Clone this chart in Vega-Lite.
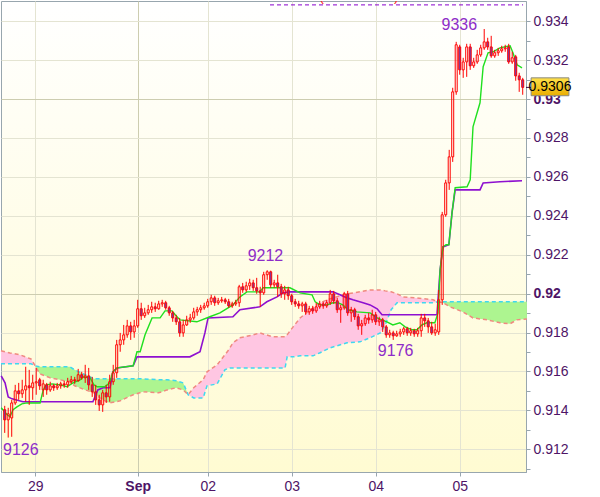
{
"$schema":"https://vega.github.io/schema/vega-lite/v6.json",
"width":525,"height":471,
"autosize":{"type":"none"},
"padding":{"left":1,"top":1,"right":74,"bottom":25},
"background":"#ffffff",
"view":{"stroke":"#98a6ae","strokeWidth":1,"fill":{"gradient":"linear","x1":0,"y1":0,"x2":0,"y2":1,"stops":[{"offset":0,"color":"#ffffff"},{"offset":1,"color":"#fffbd2"}]}},
"config":{"axis":{"labelFont":"Liberation Sans","labelFontSize":14,"labelColor":"#4e1466","domainColor":"#98a6ae","tickColor":"#98a6ae","tickSize":4,"labelPadding":3,"gridWidth":1}},
"resolve":{"axis":{"y":"independent"}},
"datasets":{
"candles":[
{"i":0,"o":0.91403,"h":0.91423,"l":0.91284,"c":0.91351},
{"i":1,"o":0.91351,"h":0.91413,"l":0.91260,"c":0.91382},
{"i":2,"o":0.91361,"h":0.91454,"l":0.91264,"c":0.91438},
{"i":3,"o":0.91438,"h":0.91531,"l":0.91428,"c":0.91500},
{"i":4,"o":0.91500,"h":0.91541,"l":0.91454,"c":0.91485},
{"i":5,"o":0.91485,"h":0.91557,"l":0.91464,"c":0.91505},
{"i":6,"o":0.91505,"h":0.91624,"l":0.91444,"c":0.91526},
{"i":7,"o":0.91526,"h":0.91608,"l":0.91428,"c":0.91516},
{"i":8,"o":0.91516,"h":0.91583,"l":0.91454,"c":0.91541},
{"i":9,"o":0.91541,"h":0.91618,"l":0.91480,"c":0.91547},
{"i":10,"o":0.91557,"h":0.91567,"l":0.91505,"c":0.91526},
{"i":11,"o":0.91505,"h":0.91557,"l":0.91469,"c":0.91536},
{"i":12,"o":0.91531,"h":0.91541,"l":0.91480,"c":0.91505},
{"i":13,"o":0.91505,"h":0.91547,"l":0.91495,"c":0.91526},
{"i":14,"o":0.91526,"h":0.91536,"l":0.91500,"c":0.91516},
{"i":15,"o":0.91516,"h":0.91541,"l":0.91505,"c":0.91526},
{"i":16,"o":0.91526,"h":0.91547,"l":0.91511,"c":0.91536},
{"i":17,"o":0.91536,"h":0.91552,"l":0.91516,"c":0.91531},
{"i":18,"o":0.91531,"h":0.91567,"l":0.91516,"c":0.91547},
{"i":19,"o":0.91547,"h":0.91577,"l":0.91536,"c":0.91557},
{"i":20,"o":0.91557,"h":0.91572,"l":0.91536,"c":0.91552},
{"i":21,"o":0.91552,"h":0.91613,"l":0.91547,"c":0.91583},
{"i":22,"o":0.91583,"h":0.91598,"l":0.91557,"c":0.91567},
{"i":23,"o":0.91567,"h":0.91634,"l":0.91541,"c":0.91577},
{"i":24,"o":0.91577,"h":0.91618,"l":0.91505,"c":0.91531},
{"i":25,"o":0.91531,"h":0.91572,"l":0.91469,"c":0.91495},
{"i":26,"o":0.91495,"h":0.91531,"l":0.91428,"c":0.91454},
{"i":27,"o":0.91454,"h":0.91480,"l":0.91397,"c":0.91428},
{"i":28,"o":0.91428,"h":0.91505,"l":0.91392,"c":0.91490},
{"i":29,"o":0.91490,"h":0.91531,"l":0.91438,"c":0.91469},
{"i":30,"o":0.91469,"h":0.91583,"l":0.91444,"c":0.91547},
{"i":31,"o":0.91547,"h":0.91634,"l":0.91531,"c":0.91593},
{"i":32,"o":0.91593,"h":0.91762,"l":0.91567,"c":0.91737},
{"i":33,"o":0.91737,"h":0.91798,"l":0.91701,"c":0.91762},
{"i":34,"o":0.91762,"h":0.91839,"l":0.91737,"c":0.91788},
{"i":35,"o":0.91788,"h":0.91865,"l":0.91773,"c":0.91834},
{"i":36,"o":0.91834,"h":0.91855,"l":0.91762,"c":0.91803},
{"i":37,"o":0.91803,"h":0.91865,"l":0.91773,"c":0.91834},
{"i":38,"o":0.91834,"h":0.91968,"l":0.91824,"c":0.91922},
{"i":39,"o":0.91922,"h":0.91953,"l":0.91865,"c":0.91886},
{"i":40,"o":0.91886,"h":0.91927,"l":0.91875,"c":0.91901},
{"i":41,"o":0.91901,"h":0.91942,"l":0.91891,"c":0.91917},
{"i":42,"o":0.91917,"h":0.91958,"l":0.91901,"c":0.91932},
{"i":43,"o":0.91932,"h":0.91953,"l":0.91906,"c":0.91922},
{"i":44,"o":0.91922,"h":0.91963,"l":0.91917,"c":0.91947},
{"i":45,"o":0.91947,"h":0.91968,"l":0.91932,"c":0.91953},
{"i":46,"o":0.91953,"h":0.91963,"l":0.91917,"c":0.91927},
{"i":47,"o":0.91927,"h":0.91937,"l":0.91886,"c":0.91901},
{"i":48,"o":0.91901,"h":0.91911,"l":0.91855,"c":0.91875},
{"i":49,"o":0.91875,"h":0.91891,"l":0.91839,"c":0.91855},
{"i":50,"o":0.91855,"h":0.91875,"l":0.91778,"c":0.91798},
{"i":51,"o":0.91798,"h":0.91865,"l":0.91778,"c":0.91839},
{"i":52,"o":0.91839,"h":0.91886,"l":0.91834,"c":0.91865},
{"i":53,"o":0.91865,"h":0.91896,"l":0.91850,"c":0.91875},
{"i":54,"o":0.91875,"h":0.91927,"l":0.91865,"c":0.91906},
{"i":55,"o":0.91906,"h":0.91932,"l":0.91886,"c":0.91917},
{"i":56,"o":0.91917,"h":0.91942,"l":0.91901,"c":0.91927},
{"i":57,"o":0.91927,"h":0.91953,"l":0.91917,"c":0.91937},
{"i":58,"o":0.91937,"h":0.91973,"l":0.91927,"c":0.91958},
{"i":59,"o":0.91958,"h":0.91994,"l":0.91942,"c":0.91978},
{"i":60,"o":0.91978,"h":0.91989,"l":0.91937,"c":0.91953},
{"i":61,"o":0.91953,"h":0.91978,"l":0.91942,"c":0.91963},
{"i":62,"o":0.91963,"h":0.91983,"l":0.91953,"c":0.91968},
{"i":63,"o":0.91968,"h":0.91978,"l":0.91947,"c":0.91958},
{"i":64,"o":0.91958,"h":0.91973,"l":0.91927,"c":0.91937},
{"i":65,"o":0.91937,"h":0.91958,"l":0.91927,"c":0.91947},
{"i":66,"o":0.91947,"h":0.91968,"l":0.91937,"c":0.91953},
{"i":67,"o":0.91953,"h":0.92045,"l":0.91932,"c":0.92035},
{"i":68,"o":0.92035,"h":0.92055,"l":0.92004,"c":0.92019},
{"i":69,"o":0.92019,"h":0.92061,"l":0.92009,"c":0.92040},
{"i":70,"o":0.92040,"h":0.92076,"l":0.92019,"c":0.92055},
{"i":71,"o":0.92055,"h":0.92071,"l":0.92014,"c":0.92030},
{"i":72,"o":0.92030,"h":0.92081,"l":0.91999,"c":0.92014},
{"i":73,"o":0.92014,"h":0.92035,"l":0.91932,"c":0.92004},
{"i":74,"o":0.92004,"h":0.92112,"l":0.91994,"c":0.92097},
{"i":75,"o":0.92097,"h":0.92120,"l":0.92071,"c":0.92112},
{"i":76,"o":0.92112,"h":0.92118,"l":0.92030,"c":0.92045},
{"i":77,"o":0.92045,"h":0.92071,"l":0.92030,"c":0.92055},
{"i":78,"o":0.92055,"h":0.92097,"l":0.91983,"c":0.92035},
{"i":79,"o":0.92035,"h":0.92050,"l":0.91978,"c":0.91999},
{"i":80,"o":0.91999,"h":0.92040,"l":0.91968,"c":0.92019},
{"i":81,"o":0.92019,"h":0.92035,"l":0.91968,"c":0.91989},
{"i":82,"o":0.91989,"h":0.91999,"l":0.91942,"c":0.91958},
{"i":83,"o":0.91958,"h":0.91973,"l":0.91932,"c":0.91947},
{"i":84,"o":0.91947,"h":0.91963,"l":0.91922,"c":0.91937},
{"i":85,"o":0.91937,"h":0.91958,"l":0.91906,"c":0.91947},
{"i":86,"o":0.91947,"h":0.91958,"l":0.91891,"c":0.91906},
{"i":87,"o":0.91906,"h":0.91937,"l":0.91891,"c":0.91922},
{"i":88,"o":0.91922,"h":0.91937,"l":0.91896,"c":0.91911},
{"i":89,"o":0.91911,"h":0.91953,"l":0.91901,"c":0.91932},
{"i":90,"o":0.91932,"h":0.91963,"l":0.91922,"c":0.91947},
{"i":91,"o":0.91947,"h":0.91958,"l":0.91922,"c":0.91937},
{"i":92,"o":0.91937,"h":0.91968,"l":0.91927,"c":0.91953},
{"i":93,"o":0.91953,"h":0.92019,"l":0.91942,"c":0.91999},
{"i":94,"o":0.91999,"h":0.92014,"l":0.91947,"c":0.91963},
{"i":95,"o":0.91963,"h":0.91978,"l":0.91901,"c":0.91917},
{"i":96,"o":0.91917,"h":0.91942,"l":0.91850,"c":0.91927},
{"i":97,"o":0.91927,"h":0.92009,"l":0.91917,"c":0.91999},
{"i":98,"o":0.91999,"h":0.92014,"l":0.91886,"c":0.91901},
{"i":99,"o":0.91901,"h":0.91932,"l":0.91855,"c":0.91917},
{"i":100,"o":0.91917,"h":0.91927,"l":0.91865,"c":0.91881},
{"i":101,"o":0.91881,"h":0.91896,"l":0.91814,"c":0.91834},
{"i":102,"o":0.91834,"h":0.91865,"l":0.91788,"c":0.91845},
{"i":103,"o":0.91845,"h":0.91891,"l":0.91834,"c":0.91875},
{"i":104,"o":0.91875,"h":0.91901,"l":0.91845,"c":0.91865},
{"i":105,"o":0.91865,"h":0.91917,"l":0.91850,"c":0.91891},
{"i":106,"o":0.91891,"h":0.91906,"l":0.91839,"c":0.91855},
{"i":107,"o":0.91855,"h":0.91881,"l":0.91834,"c":0.91865},
{"i":108,"o":0.91865,"h":0.91875,"l":0.91803,"c":0.91829},
{"i":109,"o":0.91829,"h":0.91839,"l":0.91773,"c":0.91788},
{"i":110,"o":0.91788,"h":0.91814,"l":0.91773,"c":0.91798},
{"i":111,"o":0.91798,"h":0.91809,"l":0.91762,"c":0.91783},
{"i":112,"o":0.91783,"h":0.91809,"l":0.91778,"c":0.91793},
{"i":113,"o":0.91793,"h":0.91819,"l":0.91778,"c":0.91803},
{"i":114,"o":0.91803,"h":0.91829,"l":0.91788,"c":0.91819},
{"i":115,"o":0.91819,"h":0.91829,"l":0.91783,"c":0.91798},
{"i":116,"o":0.91798,"h":0.91824,"l":0.91783,"c":0.91809},
{"i":117,"o":0.91809,"h":0.91819,"l":0.91778,"c":0.91793},
{"i":118,"o":0.91793,"h":0.91824,"l":0.91778,"c":0.91809},
{"i":119,"o":0.91809,"h":0.91896,"l":0.91778,"c":0.91875},
{"i":120,"o":0.91875,"h":0.91896,"l":0.91829,"c":0.91860},
{"i":121,"o":0.91860,"h":0.91875,"l":0.91798,"c":0.91829},
{"i":122,"o":0.91829,"h":0.91855,"l":0.91788,"c":0.91798},
{"i":123,"o":0.91798,"h":0.91845,"l":0.91783,"c":0.91814},
{"i":124,"o":0.91803,"h":0.92019,"l":0.91788,"c":0.91968},
{"i":125,"o":0.91968,"h":0.92420,"l":0.91942,"c":0.92405},
{"i":126,"o":0.92405,"h":0.92585,"l":0.92395,"c":0.92569},
{"i":127,"o":0.92569,"h":0.92739,"l":0.92533,"c":0.92703},
{"i":128,"o":0.92703,"h":0.93058,"l":0.92677,"c":0.93037},
{"i":129,"o":0.93037,"h":0.93294,"l":0.93022,"c":0.93279},
{"i":130,"o":0.93268,"h":0.93279,"l":0.93125,"c":0.93150},
{"i":131,"o":0.93150,"h":0.93212,"l":0.93109,"c":0.93191},
{"i":132,"o":0.93191,"h":0.93284,"l":0.93114,"c":0.93268},
{"i":133,"o":0.93268,"h":0.93284,"l":0.93150,"c":0.93171},
{"i":134,"o":0.93171,"h":0.93212,"l":0.93160,"c":0.93191},
{"i":135,"o":0.93191,"h":0.93253,"l":0.93181,"c":0.93227},
{"i":136,"o":0.93227,"h":0.93279,"l":0.93217,"c":0.93263},
{"i":137,"o":0.93263,"h":0.93360,"l":0.93253,"c":0.93294},
{"i":138,"o":0.93294,"h":0.93315,"l":0.93253,"c":0.93268},
{"i":139,"o":0.93268,"h":0.93325,"l":0.93212,"c":0.93222},
{"i":140,"o":0.93222,"h":0.93253,"l":0.93212,"c":0.93238},
{"i":141,"o":0.93238,"h":0.93263,"l":0.93222,"c":0.93248},
{"i":142,"o":0.93248,"h":0.93274,"l":0.93238,"c":0.93258},
{"i":143,"o":0.93258,"h":0.93279,"l":0.93243,"c":0.93263},
{"i":144,"o":0.93268,"h":0.93284,"l":0.93181,"c":0.93191},
{"i":145,"o":0.93191,"h":0.93243,"l":0.93181,"c":0.93212},
{"i":146,"o":0.93217,"h":0.93227,"l":0.93094,"c":0.93119},
{"i":147,"o":0.93119,"h":0.93135,"l":0.93037,"c":0.93099},
{"i":148,"o":0.93099,"h":0.93109,"l":0.93022,"c":0.93060}
],
"tenkan":[
{"i":-1,"v":0.91413},{"i":0.7,"v":0.91377},{"i":1.5,"v":0.91367},{"i":2.4,"v":0.91403},{"i":3.5,"v":0.91418},{"i":4.9,"v":0.91433},{"i":6.4,"v":0.91438},{"i":10.1,"v":0.91438},{"i":11,"v":0.91505},{"i":11.8,"v":0.91531},{"i":13.5,"v":0.91536},{"i":15.8,"v":0.91531},{"i":17.8,"v":0.91521},{"i":19.5,"v":0.91541},{"i":21.5,"v":0.91557},{"i":22.4,"v":0.91572},{"i":24.4,"v":0.91567},{"i":25.5,"v":0.91531},{"i":26.4,"v":0.91521},{"i":28.6,"v":0.91521},{"i":30,"v":0.91541},{"i":30.9,"v":0.91598},{"i":32.1,"v":0.91618},{"i":36.7,"v":0.91629},{"i":37.8,"v":0.91701},{"i":38.7,"v":0.91701},{"i":40.1,"v":0.91788},{"i":42.1,"v":0.91875},{"i":44.4,"v":0.91875},{"i":45.8,"v":0.91911},{"i":47.8,"v":0.91911},{"i":48.7,"v":0.91891},{"i":50.1,"v":0.91865},{"i":54.9,"v":0.91855},{"i":58.6,"v":0.91881},{"i":61.5,"v":0.91901},{"i":65.2,"v":0.91942},{"i":67.2,"v":0.91983},{"i":69.2,"v":0.92009},{"i":72.9,"v":0.92009},{"i":73.8,"v":0.92030},{"i":81.5,"v":0.92030},{"i":84.4,"v":0.92004},{"i":87.8,"v":0.91994},{"i":88.7,"v":0.91958},{"i":90.1,"v":0.91942},{"i":92.1,"v":0.91942},{"i":93.8,"v":0.91953},{"i":95.2,"v":0.91953},{"i":96.6,"v":0.91942},{"i":98.1,"v":0.91917},{"i":100.6,"v":0.91906},{"i":104.4,"v":0.91901},{"i":106.4,"v":0.91875},{"i":107.8,"v":0.91865},{"i":109.2,"v":0.91855},{"i":110.9,"v":0.91839},{"i":112.9,"v":0.91850},{"i":114.4,"v":0.91829},{"i":116.4,"v":0.91814},{"i":117.8,"v":0.91814},{"i":119.2,"v":0.91839},{"i":120.6,"v":0.91850},{"i":122.9,"v":0.91850},{"i":123.8,"v":0.91901},{"i":124.4,"v":0.92122},{"i":125.2,"v":0.92240},{"i":126.1,"v":0.92251},{"i":126.9,"v":0.92251},{"i":127.8,"v":0.92415},{"i":128.7,"v":0.92544},{"i":132.1,"v":0.92549},{"i":133,"v":0.92585},{"i":133.8,"v":0.92857},{"i":135.8,"v":0.92981},{"i":136.7,"v":0.93166},{"i":138.1,"v":0.93238},{"i":139.5,"v":0.93243},{"i":141.5,"v":0.93263},{"i":144.4,"v":0.93274},{"i":145.2,"v":0.93238},{"i":146.4,"v":0.93176},{"i":147.8,"v":0.93160}
],
"kijun":[
{"i":-1,"v":0.91577},{"i":0.1,"v":0.91541},{"i":1,"v":0.91469},{"i":2.1,"v":0.91459},{"i":5.2,"v":0.91444},{"i":25.2,"v":0.91444},{"i":26.6,"v":0.91505},{"i":28.1,"v":0.91516},{"i":30.1,"v":0.91516},{"i":30.9,"v":0.91598},{"i":32.1,"v":0.91618},{"i":36.7,"v":0.91629},{"i":37.8,"v":0.91675},{"i":52.9,"v":0.91675},{"i":55.8,"v":0.91701},{"i":57.2,"v":0.91798},{"i":58.1,"v":0.91875},{"i":65.2,"v":0.91881},{"i":67.2,"v":0.91917},{"i":72.9,"v":0.91932},{"i":74.9,"v":0.91958},{"i":77.8,"v":0.91983},{"i":79.5,"v":0.92004},{"i":81.5,"v":0.92009},{"i":93.8,"v":0.92009},{"i":95.8,"v":0.91994},{"i":97.8,"v":0.91978},{"i":99.5,"v":0.91968},{"i":102.4,"v":0.91953},{"i":104.4,"v":0.91942},{"i":106.4,"v":0.91922},{"i":107.8,"v":0.91891},{"i":123.5,"v":0.91891},{"i":124.4,"v":0.92122},{"i":125.2,"v":0.92240},{"i":126.9,"v":0.92251},{"i":127.8,"v":0.92415},{"i":128.7,"v":0.92533},{"i":135.8,"v":0.92533},{"i":136.7,"v":0.92569},{"i":141.5,"v":0.92575},{"i":147.8,"v":0.92580}
],
"cloud":[
{"i":-1.06,"a":0.91639,"b":0.91706,"s":1,"c":"dn"},
{"i":1.5,"a":0.91639,"b":0.91695,"s":1,"c":"dn"},
{"i":4.4,"a":0.91639,"b":0.91685,"s":1,"c":"dn"},
{"i":7.5,"a":0.91639,"b":0.91664,"s":1,"c":"dn"},
{"i":8.7,"a":0.91629,"b":0.91629,"s":1,"c":"dn"},
{"i":8.7,"a":0.91629,"b":0.91629,"s":2,"c":"up"},
{"i":10,"a":0.91624,"b":0.91588,"s":2,"c":"up"},
{"i":13,"a":0.91624,"b":0.91567,"s":2,"c":"up"},
{"i":18.6,"a":0.91624,"b":0.91547,"s":2,"c":"up"},
{"i":20,"a":0.91608,"b":0.91526,"s":2,"c":"up"},
{"i":23,"a":0.91583,"b":0.91505,"s":2,"c":"up"},
{"i":25.5,"a":0.91562,"b":0.91490,"s":2,"c":"up"},
{"i":28,"a":0.91562,"b":0.91454,"s":2,"c":"up"},
{"i":30,"a":0.91562,"b":0.91438,"s":2,"c":"up"},
{"i":33,"a":0.91562,"b":0.91449,"s":2,"c":"up"},
{"i":36.7,"a":0.91562,"b":0.91480,"s":2,"c":"up"},
{"i":39.5,"a":0.91562,"b":0.91495,"s":2,"c":"up"},
{"i":44,"a":0.91557,"b":0.91490,"s":2,"c":"up"},
{"i":46.4,"a":0.91557,"b":0.91505,"s":2,"c":"up"},
{"i":49,"a":0.91552,"b":0.91516,"s":2,"c":"up"},
{"i":51,"a":0.91541,"b":0.91505,"s":2,"c":"up"},
{"i":52.4,"a":0.91480,"b":0.91480,"s":2,"c":"up"},
{"i":52.4,"a":0.91480,"b":0.91480,"s":3,"c":"dn"},
{"i":54,"a":0.91464,"b":0.91516,"s":3,"c":"dn"},
{"i":56.7,"a":0.91464,"b":0.91557,"s":3,"c":"dn"},
{"i":57.8,"a":0.91526,"b":0.91598,"s":3,"c":"dn"},
{"i":60.7,"a":0.91536,"b":0.91634,"s":3,"c":"dn"},
{"i":62.9,"a":0.91608,"b":0.91685,"s":3,"c":"dn"},
{"i":64,"a":0.91618,"b":0.91711,"s":3,"c":"dn"},
{"i":65.2,"a":0.91618,"b":0.91747,"s":3,"c":"dn"},
{"i":67.2,"a":0.91618,"b":0.91773,"s":3,"c":"dn"},
{"i":71,"a":0.91618,"b":0.91788,"s":3,"c":"dn"},
{"i":72.9,"a":0.91618,"b":0.91798,"s":3,"c":"dn"},
{"i":76.6,"a":0.91618,"b":0.91778,"s":3,"c":"dn"},
{"i":80.1,"a":0.91618,"b":0.91778,"s":3,"c":"dn"},
{"i":80.7,"a":0.91675,"b":0.91788,"s":3,"c":"dn"},
{"i":82.4,"a":0.91675,"b":0.91829,"s":3,"c":"dn"},
{"i":84.4,"a":0.91680,"b":0.91875,"s":3,"c":"dn"},
{"i":88.1,"a":0.91680,"b":0.91927,"s":3,"c":"dn"},
{"i":90.1,"a":0.91696,"b":0.91953,"s":3,"c":"dn"},
{"i":92.9,"a":0.91721,"b":0.91973,"s":3,"c":"dn"},
{"i":97.8,"a":0.91747,"b":0.91999,"s":3,"c":"dn"},
{"i":101.5,"a":0.91752,"b":0.92009,"s":3,"c":"dn"},
{"i":104.4,"a":0.91773,"b":0.92019,"s":3,"c":"dn"},
{"i":107.3,"a":0.91798,"b":0.92019,"s":3,"c":"dn"},
{"i":108.7,"a":0.91839,"b":0.92014,"s":3,"c":"dn"},
{"i":110.4,"a":0.91917,"b":0.92009,"s":3,"c":"dn"},
{"i":112.1,"a":0.91953,"b":0.91999,"s":3,"c":"dn"},
{"i":113.8,"a":0.91953,"b":0.91983,"s":3,"c":"dn"},
{"i":117.8,"a":0.91953,"b":0.91978,"s":3,"c":"dn"},
{"i":122.4,"a":0.91953,"b":0.91968,"s":3,"c":"dn"},
{"i":123.8,"a":0.91958,"b":0.91958,"s":3,"c":"dn"},
{"i":123.8,"a":0.91958,"b":0.91958,"s":4,"c":"up"},
{"i":125.2,"a":0.91958,"b":0.91953,"s":4,"c":"up"},
{"i":127.2,"a":0.91958,"b":0.91932,"s":4,"c":"up"},
{"i":130.9,"a":0.91958,"b":0.91906,"s":4,"c":"up"},
{"i":133.8,"a":0.91958,"b":0.91875,"s":4,"c":"up"},
{"i":137.8,"a":0.91958,"b":0.91865,"s":4,"c":"up"},
{"i":141.5,"a":0.91958,"b":0.91850,"s":4,"c":"up"},
{"i":144.4,"a":0.91958,"b":0.91845,"s":4,"c":"up"},
{"i":146.3,"a":0.91958,"b":0.91865,"s":4,"c":"up"},
{"i":149.2,"a":0.91958,"b":0.91870,"s":4,"c":"up"}
]
},
"layer":[
{"data":{"name":"cloud"},"mark":{"type":"area","opacity":1},
 "encoding":{"x":{"field":"i","type":"quantitative","scale":{"domain":[-1.06,148.94],"nice":false,"zero":false,"padding":0}},
 "y":{"field":"a","type":"quantitative","scale":{"domain":[0.91083,0.93504],"nice":false,"zero":false,"padding":0},"axis":null},
 "y2":{"field":"b"},
 "color":{"field":"c","type":"nominal","scale":{"domain":["up","dn"],"range":["#adf590","#ffc6e2"]},"legend":null},
 "detail":{"field":"s","type":"nominal"}}},
{"data":{"name":"cloud"},"mark":{"type":"line","color":"#3fd8f0","strokeWidth":1.5,"strokeDash":[4,3]},
 "encoding":{"x":{"field":"i","type":"quantitative"},"y":{"field":"a","type":"quantitative","axis":null}}},
{"data":{"name":"cloud"},"mark":{"type":"line","color":"#f08a80","strokeWidth":1.5,"strokeDash":[4,3]},
 "encoding":{"x":{"field":"i","type":"quantitative"},"y":{"field":"b","type":"quantitative","axis":null}}},
{"data":{"name":"kijun"},"mark":{"type":"line","color":"#8e10d0","strokeWidth":1.6},
 "encoding":{"x":{"field":"i","type":"quantitative"},"y":{"field":"v","type":"quantitative","axis":null}}},
{"data":{"name":"tenkan"},"mark":{"type":"line","color":"#1fe01f","strokeWidth":1.4},
 "encoding":{"x":{"field":"i","type":"quantitative"},"y":{"field":"v","type":"quantitative",
   "axis":{"orient":"right","title":null,"values":[0.911,0.913,0.915,0.917,0.919,0.921,0.923,0.925,0.927,0.929,0.931,0.933],"labels":false,"grid":false,"domain":false,"ticks":true}}}},
{"data":{"name":"candles"},"transform":[{"filter":"datum.c >= datum.o"}],"mark":{"type":"rule","color":"#ff0000","strokeWidth":1},
 "encoding":{"x":{"field":"i","type":"quantitative"},"y":{"field":"h","type":"quantitative","axis":null},"y2":{"field":"c"}}},
{"data":{"name":"candles"},"transform":[{"filter":"datum.c >= datum.o"}],"mark":{"type":"rule","color":"#ff0000","strokeWidth":1},
 "encoding":{"x":{"field":"i","type":"quantitative"},"y":{"field":"o","type":"quantitative","axis":null},"y2":{"field":"l"}}},
{"data":{"name":"candles"},"transform":[{"filter":"datum.c < datum.o"}],"mark":{"type":"rule","color":"#ff0000","strokeWidth":1},
 "encoding":{"x":{"field":"i","type":"quantitative"},"y":{"field":"h","type":"quantitative","axis":null},"y2":{"field":"l"}}},
{"data":{"name":"candles"},"mark":{"type":"bar","size":2,"stroke":"#ff0000","strokeWidth":1},
 "encoding":{
 "x":{"field":"i","type":"quantitative","scale":{"domain":[-1.06,148.94],"nice":false,"zero":false,"padding":0},
   "axis":{"orient":"bottom","title":null,"values":[8.7,38,58,82,106,130],
   "labelExpr":"datum.value < 20 ? '29' : datum.value < 50 ? 'Sep' : datum.value < 70 ? '02' : datum.value < 90 ? '03' : datum.value < 120 ? '04' : '05'",
   "grid":true,"gridColor":{"condition":{"test":"datum.value == 38","value":"#cdcdb0"},"value":"#e4e4d2"},
   "labelFontWeight":{"condition":{"test":"datum.value == 38","value":"bold"},"value":"normal"},
   "labelFlush":false,"labelOverlap":false}},
 "y":{"field":"o","type":"quantitative","scale":{"domain":[0.91083,0.93504],"nice":false,"zero":false,"padding":0},
   "axis":{"orient":"right","title":null,"values":[0.912,0.914,0.916,0.918,0.92,0.922,0.924,0.926,0.928,0.93,0.932,0.934],
   "labelExpr":"(datum.value == 0.92 || datum.value == 0.93) ? format(datum.value,'.2f') : format(datum.value,'.3f')",
   "grid":true,"gridColor":{"condition":{"test":"datum.value == 0.92 || datum.value == 0.93","value":"#cdcdb0"},"value":"#e4e4d2"},
   "labelFontWeight":{"condition":{"test":"datum.value == 0.92 || datum.value == 0.93","value":"bold"},"value":"normal"},
   "labelFlush":false,"labelOverlap":false}},
 "y2":{"field":"c"},
 "fill":{"condition":{"test":"datum.c < datum.o","value":"#7040b0"},"value":"rgba(255,255,255,0)"}}},
{"data":{"values":[{"a":75.8,"b":148.1,"p":0.93484}]},"mark":{"type":"rule","color":"#8800cc","strokeWidth":1,"strokeDash":[4,3]},
 "encoding":{"x":{"field":"a","type":"quantitative"},"x2":{"field":"b"},"y":{"field":"p","type":"quantitative","axis":null}}},
{"data":{"values":[{"i":76.5,"p":0.93484,"t":"0.9352 (29.08.2014)"}]},"mark":{"type":"text","color":"#ff2020","font":"Liberation Sans","fontSize":14,"align":"left","baseline":"alphabetic","dy":-4,"clip":true},
 "encoding":{"x":{"field":"i","type":"quantitative"},"y":{"field":"p","type":"quantitative","axis":null},"text":{"field":"t"}}},
{"data":{"values":[{"i":129.9,"p":0.9336,"t":"9336"}]},"mark":{"type":"text","color":"#8e2cc8","font":"Liberation Sans","fontSize":16,"align":"center","baseline":"alphabetic","dy":1},
 "encoding":{"x":{"field":"i","type":"quantitative"},"y":{"field":"p","type":"quantitative","axis":null},"text":{"field":"t"}}},
{"data":{"values":[{"i":74.5,"p":0.9212,"t":"9212"}]},"mark":{"type":"text","color":"#8e2cc8","font":"Liberation Sans","fontSize":16,"align":"center","baseline":"alphabetic","dy":-9},
 "encoding":{"x":{"field":"i","type":"quantitative"},"y":{"field":"p","type":"quantitative","axis":null},"text":{"field":"t"}}},
{"data":{"values":[{"i":111.7,"p":0.9176,"t":"9176"}]},"mark":{"type":"text","color":"#8e2cc8","font":"Liberation Sans","fontSize":16,"align":"center","baseline":"alphabetic","dy":16},
 "encoding":{"x":{"field":"i","type":"quantitative"},"y":{"field":"p","type":"quantitative","axis":null},"text":{"field":"t"}}},
{"data":{"values":[{"i":4.6,"p":0.9126,"t":"9126"}]},"mark":{"type":"text","color":"#8e2cc8","font":"Liberation Sans","fontSize":16,"align":"center","baseline":"alphabetic","dy":17},
 "encoding":{"x":{"field":"i","type":"quantitative"},"y":{"field":"p","type":"quantitative","axis":null},"text":{"field":"t"}}},
{"data":{"values":[{"p":0.9306}]},"mark":{"type":"rule","color":"#400040","strokeWidth":1},
 "encoding":{"x":{"datum":148.94,"type":"quantitative"},"x2":{"datum":150.4},"y":{"field":"p","type":"quantitative","axis":null}}},
{"data":{"values":[{"p":0.9306}]},"mark":{"type":"rect","stroke":"#8a8a80","strokeWidth":1,"color":{"gradient":"linear","x1":0,"y1":0,"x2":0,"y2":1,"stops":[{"offset":0,"color":"#ffe14a"},{"offset":1,"color":"#e9ad00"}]}},
 "encoding":{"x":{"datum":150.4,"type":"quantitative"},"x2":{"datum":161.2},"y":{"datum":0.93109,"type":"quantitative","axis":null},"y2":{"datum":0.93017}}},
{"data":{"values":[{"p":0.9306,"t":"0.9306"}]},"mark":{"type":"text","color":"#000000","font":"Liberation Sans","fontSize":14,"align":"center","baseline":"middle"},
 "encoding":{"x":{"datum":155.8,"type":"quantitative"},"y":{"field":"p","type":"quantitative","axis":null},"text":{"field":"t"}}}
]
}
